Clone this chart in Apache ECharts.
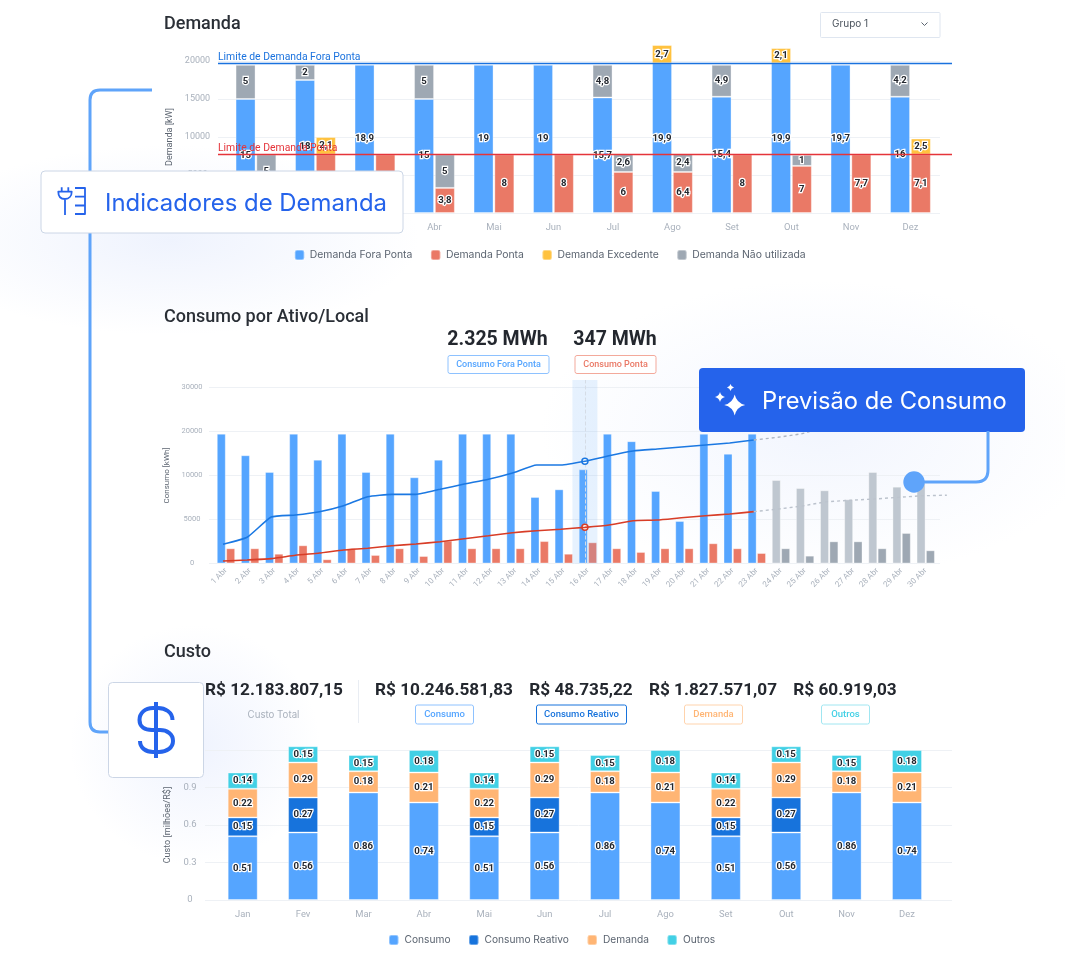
<!DOCTYPE html>
<html><head><meta charset="utf-8">
<style>
html,body{margin:0;padding:0;width:1065px;height:961px;overflow:hidden;background:#fff}
#bg{position:absolute;left:0;top:0;width:1065px;height:961px;background:
radial-gradient(ellipse 250px 95px at 170px 240px,rgba(205,218,250,.32),rgba(255,255,255,0) 100%),
radial-gradient(ellipse 280px 150px at 820px 430px,rgba(215,226,252,.32),rgba(255,255,255,0) 100%),
radial-gradient(ellipse 125px 120px at 195px 745px,rgba(208,220,252,.34),rgba(255,255,255,0) 100%)}
#c{position:absolute;left:0;top:0;width:1065px;height:961px}
</style>
<script src="https://cdn.jsdelivr.net/npm/echarts@6/dist/echarts.min.js"></script>
</head><body><div id="bg"></div><div id="c"></div>
<script>
// ---------- Demanda ----------
const months = ['Jan','Fev','Mar','Abr','Mai','Jun','Jul','Ago','Set','Out','Nov','Dez'];
const demandaForaPonta = [15000,17500,19500,15000,19500,19500,15200,19700,15300,19700,19500,15300];
const demandaForaLabels = ['15','18','18,9','15','19','19','15,7','19,9','15,4','19,9','19,7','16'];
const demandaPonta = [3300,7700,7700,3300,7700,7700,5400,5400,7700,6200,7700,7700];
const demandaPontaLabels = ['3,8','8','8','3,8','8','8','6','6,4','8','7','7,7','7,1'];
const naoUtilizadaFora = [4500,2000,null,4500,null,null,4300,null,4200,null,null,4200];
const naoUtilizadaForaLabels = ['5','2','','5','','','4,8','','4,9','','','4,2'];
const naoUtilizadaPonta = [4400,null,null,4400,null,null,2350,2350,null,1450,null,null];
const naoUtilizadaPontaLabels = ['5','','','5','','','2,6','2,4','','1','',''];
const excedenteFora = [null,null,null,null,null,null,null,2400,null,2000,null,null];
const excedenteForaLabels = ['','','','','','','','2,7','','2,1','',''];
const excedentePonta = [null,2300,null,null,null,null,null,null,null,null,null,2100];
const excedentePontaLabels = ['','2,1','','','','','','','','','','2,5'];
const limiteForaPonta = 19700;
const limitePonta = 7750;

// ---------- Consumo ----------
const days = ['1 Abr','2 Abr','3 Abr','4 Abr','5 Abr','6 Abr','7 Abr','8 Abr','9 Abr','10 Abr','11 Abr','12 Abr','13 Abr','14 Abr','15 Abr','16 Abr','17 Abr','18 Abr','19 Abr','20 Abr','21 Abr','22 Abr','23 Abr','24 Abr','25 Abr','26 Abr','27 Abr','28 Abr','29 Abr','30 Abr'];
const consumoTicks = [0,5000,10000,20000,30000];
const consumoFora = [19500,14600,10800,19500,13600,19500,10800,19500,9800,13600,19500,19500,19500,7560,8430,11400,19500,17800,8240,4830,19500,14950,19500,null,null,null,null,null,null,null];
const consumoPonta = [1730,1730,1110,2070,480,1730,970,1730,850,2590,1730,1730,1730,2550,1110,2410,1730,1310,1730,1730,2300,1730,1190,null,null,null,null,null,null,null];
const previsaoFora = [null,null,null,null,null,null,null,null,null,null,null,null,null,null,null,null,null,null,null,null,null,null,null,9490,8580,8320,7300,10800,8730,9150];
const previsaoPonta = [null,null,null,null,null,null,null,null,null,null,null,null,null,null,null,null,null,null,null,null,null,null,null,1730,890,2520,2520,1730,3470,1500];
const acumFora = [2180,2980,5280,5510,5890,6570,7590,7860,7860,8430,9030,9570,10570,12390,12390,13230,14500,15570,16020,16480,16930,17390,18070];
const acumPonta = [280,400,550,930,1190,1530,1730,2020,2220,2480,2820,3160,3500,3730,3890,4110,4380,4860,4940,5200,5430,5620,5890];
const projFora = [18680,19500,21090,21770,22410,23070,23750,24400];
const projPonta = [6190,6530,7020,7180,7330,7520,7700,7760];

// ---------- Custo ----------
const custoConsumo = [.51,.54,.86,.78,.51,.54,.86,.78,.51,.54,.86,.78];
const custoConsumoLabels = ['0.51','0.56','0.86','0.74','0.51','0.56','0.86','0.74','0.51','0.56','0.86','0.74'];
const custoReativo = [.15,.28,null,null,.15,.28,null,null,.15,.28,null,null];
const custoReativoLabels = ['0.15','0.27','','','0.15','0.27','','','0.15','0.27','',''];
const custoDemanda = [.23,.28,.17,.24,.23,.28,.17,.24,.23,.28,.17,.24];
const custoDemandaLabels = ['0.22','0.29','0.18','0.21','0.22','0.29','0.18','0.21','0.22','0.29','0.18','0.21'];
const custoOutros = [.13,.13,.13,.18,.13,.13,.13,.18,.13,.13,.13,.18];
const custoOutrosLabels = ['0.14','0.15','0.15','0.18','0.14','0.15','0.15','0.18','0.14','0.15','0.15','0.18'];

const FONT='Inter',NUM='Roboto';
const BLUE='#55A5FF',RED='#EA7966',YEL='#FFC23F',GREY='#9EA8B3',LGREY='#BFC7D0',DBLUE='#1773DC',ORG='#FFB574',CYAN='#42D0E5',ROYAL='#2563EB',LINK='#5FA4FA';
const TICK='#A9B1BC',GRID='#EEF1F5';
const bar=(name,data,color,labels,xi,yi,stack,w,extra)=>Object.assign({type:'bar',name,data,stack,xAxisIndex:xi,yAxisIndex:yi,barWidth:w,clip:false,z:2,
  itemStyle:{color,borderColor:'rgba(255,255,255,.35)',borderWidth:1},
  label:labels?{show:true,position:'inside',fontFamily:NUM,fontSize:9.6,fontWeight:700,color:'#23272e',textBorderColor:'#fff',textBorderWidth:2.5,formatter:p=>labels[p.dataIndex]}:{show:false}},extra||{});
const hiddenCat=(gi,data)=>({type:'category',gridIndex:gi,data,show:false});
const hiddenVal=(gi,min,max)=>({type:'value',gridIndex:gi,min,max,show:false});
const toAxis=v=>{if(v==null)return null;for(let i=1;i<consumoTicks.length;i++){if(v<=consumoTicks[i]||i===consumoTicks.length-1)return i-1+(v-consumoTicks[i-1])/(consumoTicks[i]-consumoTicks[i-1]);}};
const lineMax=183.5/44;

const axisY=(gi,min,max,interval,fmt,fs,margin,name,nameFs,gap,pad)=>({type:'value',gridIndex:gi,min,max,interval,
  axisLine:{show:false},axisTick:{show:false},
  splitLine:{show:true,lineStyle:{color:GRID,width:1}},
  axisLabel:{color:TICK,fontFamily:NUM,fontSize:fs,align:'center',margin,formatter:fmt},
  name,nameLocation:'middle',nameGap:gap,nameTextStyle:{color:'#5b6470',fontFamily:NUM,fontSize:nameFs,padding:pad||0}});

const grid=[
 {left:226.2,width:714,top:61,height:152},   //0 demanda bars
 {left:218,width:722,top:61,height:152},     //1 demanda rules
 {left:213.9,width:723.9,top:387.5,height:176}, //2 consumo bars
 {left:209,width:731,top:387.5,height:176},  //3 consumo rules
 {left:210.9,width:748,top:380,height:183.5},//4 consumo lines
 {left:212.5,width:724.7,top:750,height:150},//5 custo bars
 {left:205,width:747,top:750,height:150}     //6 custo rules
];
const xAxis=[
 {type:'category',gridIndex:0,data:months,axisLine:{show:false},axisTick:{show:false},axisLabel:{color:TICK,fontFamily:NUM,fontSize:9.4,margin:10}},
 hiddenVal(1,0,1),
 {type:'category',gridIndex:2,data:days,axisLine:{show:false},axisTick:{show:false},axisLabel:{color:TICK,fontFamily:NUM,fontSize:8,rotate:45,margin:6,interval:0}},
 hiddenVal(3,0,1),
 hiddenCat(4,days.concat([''])),
 {type:'category',gridIndex:5,data:months,axisLine:{show:false},axisTick:{show:false},axisLabel:{color:TICK,fontFamily:NUM,fontSize:9.4,margin:10}},
 hiddenVal(6,0,1)
];
const yAxis=[
 hiddenVal(0,0,20000),
 axisY(1,0,20000,5000,v=>v,9,20.5,'Demanda [kW]',9,40),
 hiddenVal(2,0,4),
 axisY(3,0,4,1,v=>consumoTicks[v],7.5,17,'Consumo [kWh]',8,23,[0,0,8,0]),
 hiddenVal(4,0,lineMax),
 hiddenVal(5,0,1.2),
 axisY(6,0,1.2,.3,v=>v===0?'0':v.toFixed(1),9.5,15,'Custo [milhões/R$]',9,26)
];
const limit=(v,color,text)=>({type:'line',data:[],xAxisIndex:1,yAxisIndex:1,z:6,silent:true,
  markLine:{silent:true,symbol:'none',animation:false,lineStyle:{color,width:1.4,type:'solid'},
   label:{show:true,position:'insideStartTop',distance:[0,.5],formatter:text,color,fontFamily:NUM,fontSize:10.4},
   data:[[{x:218,yAxis:v},{x:952,yAxis:v}]]}});
const w=20,w2=9;
const series=[
 bar('Demanda Fora Ponta',demandaForaPonta,BLUE,demandaForaLabels,0,0,'demandaF',w,{barGap:'4%'}),
 bar('Demanda Não utilizada',naoUtilizadaFora,GREY,naoUtilizadaForaLabels,0,0,'demandaF',w),
 bar('Demanda Excedente',excedenteFora,YEL,excedenteForaLabels,0,0,'demandaF',w),
 bar('Demanda Ponta',demandaPonta,RED,demandaPontaLabels,0,0,'demandaP',w),
 bar('Demanda Não utilizada',naoUtilizadaPonta,GREY,naoUtilizadaPontaLabels,0,0,'demandaP',w),
 bar('Demanda Excedente',excedentePonta,YEL,excedentePontaLabels,0,0,'demandaP',w),
 limit(limiteForaPonta,'#1A72DE','Limite de Demanda Fora Ponta'),
 limit(limitePonta,'#E5343A','Limite de Demanda Ponta'),

 bar('Consumo Fora Ponta',consumoFora.map(v=>toAxis(v)),BLUE,null,2,2,'consumoF',w2,{barGap:'4%'}),
 bar('Previsão Fora Ponta',previsaoFora.map(v=>toAxis(v)),LGREY,null,2,2,'consumoF',w2),
 bar('Consumo Ponta',consumoPonta.map(v=>toAxis(v)),RED,null,2,2,'consumoP',w2),
 bar('Previsão Ponta',previsaoPonta.map(v=>toAxis(v)),GREY,null,2,2,'consumoP',w2),
 {type:'bar',name:'Selecionado',xAxisIndex:4,yAxisIndex:4,barWidth:25,z:3,silent:true,
  data:days.map(d=>d==='16 Abr'?lineMax:null),itemStyle:{color:'rgba(110,175,250,.17)'}},
 {type:'line',name:'Acumulado Fora Ponta',xAxisIndex:4,yAxisIndex:4,z:5,data:acumFora.map(v=>toAxis(v)),showSymbol:false,smooth:.15,lineStyle:{color:'#1B78E2',width:1.6},
  markPoint:{symbol:'circle',symbolSize:6,animation:false,itemStyle:{color:'#fff',borderColor:'#1B78E2',borderWidth:1.5},label:{show:false},data:[{coord:['16 Abr',toAxis(acumFora[15])]}]},
  markLine:{symbol:'none',silent:true,animation:false,label:{show:false},lineStyle:{color:'#D5DCE6',type:'dashed',width:1},data:[{xAxis:'16 Abr'}]}},
 {type:'line',name:'Acumulado Ponta',xAxisIndex:4,yAxisIndex:4,z:5,data:acumPonta.map(v=>toAxis(v)),showSymbol:false,smooth:.15,lineStyle:{color:'#D83D27',width:1.6},
  markPoint:{symbol:'circle',symbolSize:6,animation:false,itemStyle:{color:'#fff',borderColor:'#D83D27',borderWidth:1.5},label:{show:false},data:[{coord:['16 Abr',toAxis(acumPonta[15])]}]}},
 {type:'line',name:'Projeção Fora Ponta',xAxisIndex:4,yAxisIndex:4,z:5,showSymbol:false,lineStyle:{color:'#AEB6C2',width:1.4,type:[3,3]},
  data:days.concat(['']).map((d,i)=>i<22?null:toAxis(i===22?acumFora[22]:projFora[i-23]))},
 {type:'line',name:'Projeção Ponta',xAxisIndex:4,yAxisIndex:4,z:5,showSymbol:false,lineStyle:{color:'#BCC3CD',width:1.4,type:[3,3]},
  data:days.concat(['']).map((d,i)=>i<22?null:toAxis(i===22?acumPonta[22]:projPonta[i-23]))},

 bar('Consumo',custoConsumo,BLUE,custoConsumoLabels,5,5,'custo',30),
 bar('Consumo Reativo',custoReativo,DBLUE,custoReativoLabels,5,5,'custo',30),
 bar('Demanda',custoDemanda,ORG,custoDemandaLabels,5,5,'custo',30),
 bar('Outros',custoOutros,CYAN,custoOutrosLabels,5,5,'custo',30)
];
const legendBase={orient:'horizontal',icon:'roundRect',itemWidth:9.5,itemHeight:10,itemGap:17.5,padding:0,selectedMode:false,
 textStyle:{color:'#5b6470',fontFamily:FONT,fontSize:10.4,padding:[0,0,0,.5]}};
const legend=[
 Object.assign({},legendBase,{left:293.8,top:249,data:['Demanda Fora Ponta','Demanda Ponta','Demanda Excedente','Demanda Não utilizada']}),
 Object.assign({},legendBase,{left:388,top:934,textStyle:Object.assign({},legendBase.textStyle,{fontSize:10.2,padding:[0,0,0,1]}),data:['Consumo','Consumo Reativo','Demanda','Outros']})
];

const txt=(text,x,y,size,fill,weight,align,z,font)=>({type:'text',z:z||50,silent:true,style:{text,x,y,fill,fontFamily:font||FONT,fontSize:size,fontWeight:weight||400,textAlign:align||'left',textVerticalAlign:'middle'}});
const box=(x,y,w,h,stroke,fill,z,r)=>({type:'rect',z:z||50,silent:true,shape:{x:x+.5,y:y+.5,width:w,height:h,r:r==null?2:r},style:{fill:fill||'#fff',stroke:stroke||'none',lineWidth:1}});
let shapeId=0;
const pth=(d,stroke,lw,fill,z)=>{const t='deco'+(shapeId++);echarts.graphic.registerShape(t,echarts.graphic.extendPath(d,{}));
  return {type:t,z:z||120,silent:true,shape:{},style:{fill:fill||'none',stroke:stroke||'none',lineWidth:lw||0,lineCap:'butt',lineJoin:'round'}};};
const star=(cx,cy,r)=>`M${cx} ${cy-r}Q${cx+r*.18} ${cy-r*.18} ${cx+r} ${cy}Q${cx+r*.18} ${cy+r*.18} ${cx} ${cy+r}Q${cx-r*.18} ${cy+r*.18} ${cx-r} ${cy}Q${cx-r*.18} ${cy-r*.18} ${cx} ${cy-r}Z`;
const btn=(x,y,w,h,color,text,tc,fs)=>[box(x,y,w,h,color,'#fff',50,2),txt(text,x+w/2+.5,y+h/2+.5,fs||9,tc||color,500,'center',51,NUM)];

const graphic=[
 // connectors (behind cards)
 pth('M152 90L100 90Q90 90 90 100L90 722Q90 732 100 732L109 732',LINK,3,null,90),
 pth('M988 431L988 470Q988 482 976 482L914 482',LINK,3,null,110),
 {type:'circle',z:111,silent:true,shape:{cx:914,cy:482,r:10.7},style:{fill:LINK}},
 // titles
 txt('Demanda',164,24,18,'#2A2F36',500,'left',50,NUM),
 txt('Consumo por Ativo/Local',164,317.5,18,'#2A2F36',500,'left',50,NUM),
 txt('Custo',164,652.5,18,'#2A2F36',500,'left',50,NUM),
 // dropdown
 box(820,12,119.5,25,'#DFE6F0','#fff',50,1),
 txt('Grupo 1',832,24,10,'#4A525C',400),
 pth('M921.5 22.5L924.5 25.5L927.5 22.5','#5B6470',1,null,51),
 // consumo KPI
 txt('2.325 MWh',497.5,340,19.5,'#23272E',700,'center',50,NUM),
 txt('347 MWh',615,340,19.5,'#23272E',700,'center',50,NUM),
 ...btn(447.5,355,101,18,'#8EC2FF','Consumo Fora Ponta',BLUE),
 ...btn(574.5,355,81,18,'#F3A99B','Consumo Ponta',RED),
 // custo KPI
 txt('R$ 12.183.807,15',274,691,17.2,'#23272E',700,'center',50,NUM),
 txt('Custo Total',273.5,715,9.7,'#A9B1BC',400,'center'),
 {type:'rect',z:50,silent:true,shape:{x:358,y:680,width:1,height:43},style:{fill:'#E9EDF3'}},
 txt('R$ 10.246.581,83',444,691,17.2,'#23272E',700,'center',50,NUM),
 txt('R$ 48.735,22',581,691,17.2,'#23272E',700,'center',50,NUM),
 txt('R$ 1.827.571,07',713,691,17.2,'#23272E',700,'center',50,NUM),
 txt('R$ 60.919,03',845,691,17.2,'#23272E',700,'center',50,NUM),
 ...btn(415,704.5,58,19,'#8EC2FF','Consumo',BLUE,9.5),
 ...btn(536,704.5,90,19,DBLUE,'Consumo Reativo',DBLUE,9.5),
 ...btn(684,704.5,58,19,'#FFD3AC','Demanda',ORG,9.5),
 ...btn(821,704.5,48,19,'#A0E6F1','Outros',CYAN,9.5),
 // Indicadores card
 box(40.5,170.5,362,62,'#CCD6E6','#fff',100,4),
 txt('Indicadores de Demanda',105,204,23.9,ROYAL,400,'left',101),
 pth('M61.7 187.3V191.7M68.3 187.3V191.7M58.3 191.7H71.7C71.7 196 69 199 65 199C60.5 199 58.3 196 58.3 191.7ZM65 199V215',ROYAL,1.8,null,101),
 pth('M75 188H85V214H75M75 196.7H85M75 205.5H85',ROYAL,1.8,null,101),
 // Previsao card
 box(698.5,367.5,326,64,null,ROYAL,100,4),
 txt('Previsão de Consumo',762,402,23.7,'#FFFFFF',400,'left',101),
 pth(star(734.7,405,10.5),null,0,'#fff',101),
 pth(star(720,397,5),null,0,'#fff',101),
 pth(star(730.5,387.5,3.5),null,0,'#fff',101),
 // dollar card
 box(108,682,95,95,'#CCD6E6','#fff',100,4),
 pth('M156 702V758',ROYAL,4,null,101),
 pth('M172.5 720C172.5 712 165 708 158 708L153 708C145 708 139.5 713 139.5 720C139.5 727 145 730 152 730L160 730C167 730 173 734 173 741C173 747.5 167 752 159 752L153 752C146 752 140 748 140 741',ROYAL,4,null,101)
];
const chart=echarts.init(document.getElementById('c'),null,{renderer:'canvas',width:1065,height:961});
chart.setOption({animation:false,textStyle:{fontFamily:FONT},grid,xAxis,yAxis,series,legend,graphic:{elements:graphic}});
</script></body></html>
